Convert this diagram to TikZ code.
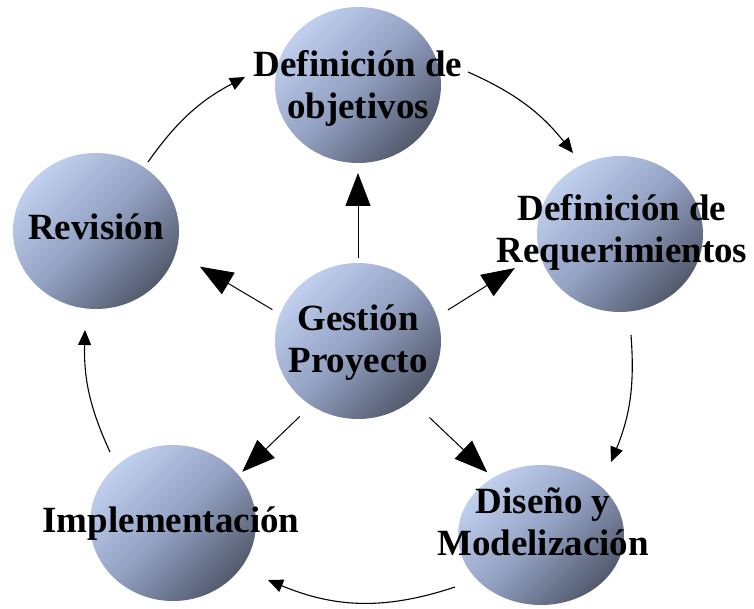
\documentclass[tikz,border=0pt]{standalone}
\usepackage{fontspec}
\setmainfont{Liberation Serif}
\usetikzlibrary{arrows.meta,shapes.geometric}

\definecolor{ballLight}{RGB}{192,208,238}
\definecolor{ballMid}{RGB}{146,160,194}
\definecolor{ballDark}{RGB}{82,90,108}

\tikzset{
  ball/.style={ellipse, minimum width=166pt, minimum height=156pt,
    inner sep=0pt, outer sep=0pt,
    top color=ballLight, bottom color=ballDark, middle color=ballMid,
    shading angle=45},
  label text/.style={font=\fontsize{37}{42}\selectfont\bfseries,
    align=center, inner sep=0pt, text=black},
  spoke/.style={line width=1pt, draw=black,
    -{Triangle[length=33pt,width=25pt]}},
  loop arrow/.style={line width=1.1pt, draw=black,
    -{Triangle[length=15pt,width=13pt]}}
}

\begin{document}
\begin{tikzpicture}[x=1pt,y=1pt]
  \useasboundingbox (0,0) rectangle (754,-609);
  \fill[white] (0,0) rectangle (754,-609);

  % shaded discs
  \node[ball] (obj)  at (358,-85)  {};
  \node[ball] (req)  at (620,-234) {};
  \node[ball] (gest) at (358,-341) {};
  \node[ball, minimum height=140pt] (dis) at (541,-535) {};
  \node[ball] (imp)  at (173,-523) {};
  \node[ball] (rev)  at (96,-231)  {};

  % spokes from the project-management hub
  \draw[spoke, shorten <=5pt, shorten >=10pt] (gest.north) -- (obj.south);
  \draw[spoke, shorten <=13pt, shorten >=29pt] (gest.17) -- (req.193);
  \draw[spoke, shorten <=9pt, shorten >=28pt] (gest.161.4) -- (rev.345);
  \draw[spoke, shorten <=16pt, shorten >=5pt] (gest.234.5) -- (imp.36);
  \draw[spoke, shorten <=24.5pt, shorten >=8pt] (gest.312.7) -- (dis.130);

  % outer cycle: end points of each arc
  \coordinate (c1a) at (468,-72);  \coordinate (c1b) at (573,-153);
  \coordinate (c2a) at (631,-335); \coordinate (c2b) at (611,-462);
  \coordinate (c3a) at (455,-587); \coordinate (c3b) at (268,-580);
  \coordinate (c4a) at (110,-452); \coordinate (c4b) at (85,-330);
  \coordinate (c5a) at (148,-162); \coordinate (c5b) at (245,-77);

  \draw[loop arrow] (c1a) to[bend left=13.6] (c1b);
  \draw[loop arrow] (c2a) to[bend left=13.3] (c2b);
  \draw[loop arrow] (c3a) to[bend left=20.5] (c3b);
  \draw[loop arrow] (c4a) to[bend left=13.1] (c4b);
  \draw[loop arrow] (c5a) to[bend left=13.5] (c5b);

  % labels
  \node[label text] (objT)  at (358,-88)  {Definición de\\objetivos};
  \node[label text] (reqT)  at (622,-232) {Definición de\\Requerimientos};
  \node[label text] (gestT) at (358,-343) {Gestión\\Proyecto};
  \node[label text] (disT)  at (543,-522) {Diseño y\\Modelización};
  \node[label text] (impT)  at (171,-524) {Implementación};
  \node[label text] (revT)  at (96,-227)  {Revisión};
\end{tikzpicture}
\end{document}
